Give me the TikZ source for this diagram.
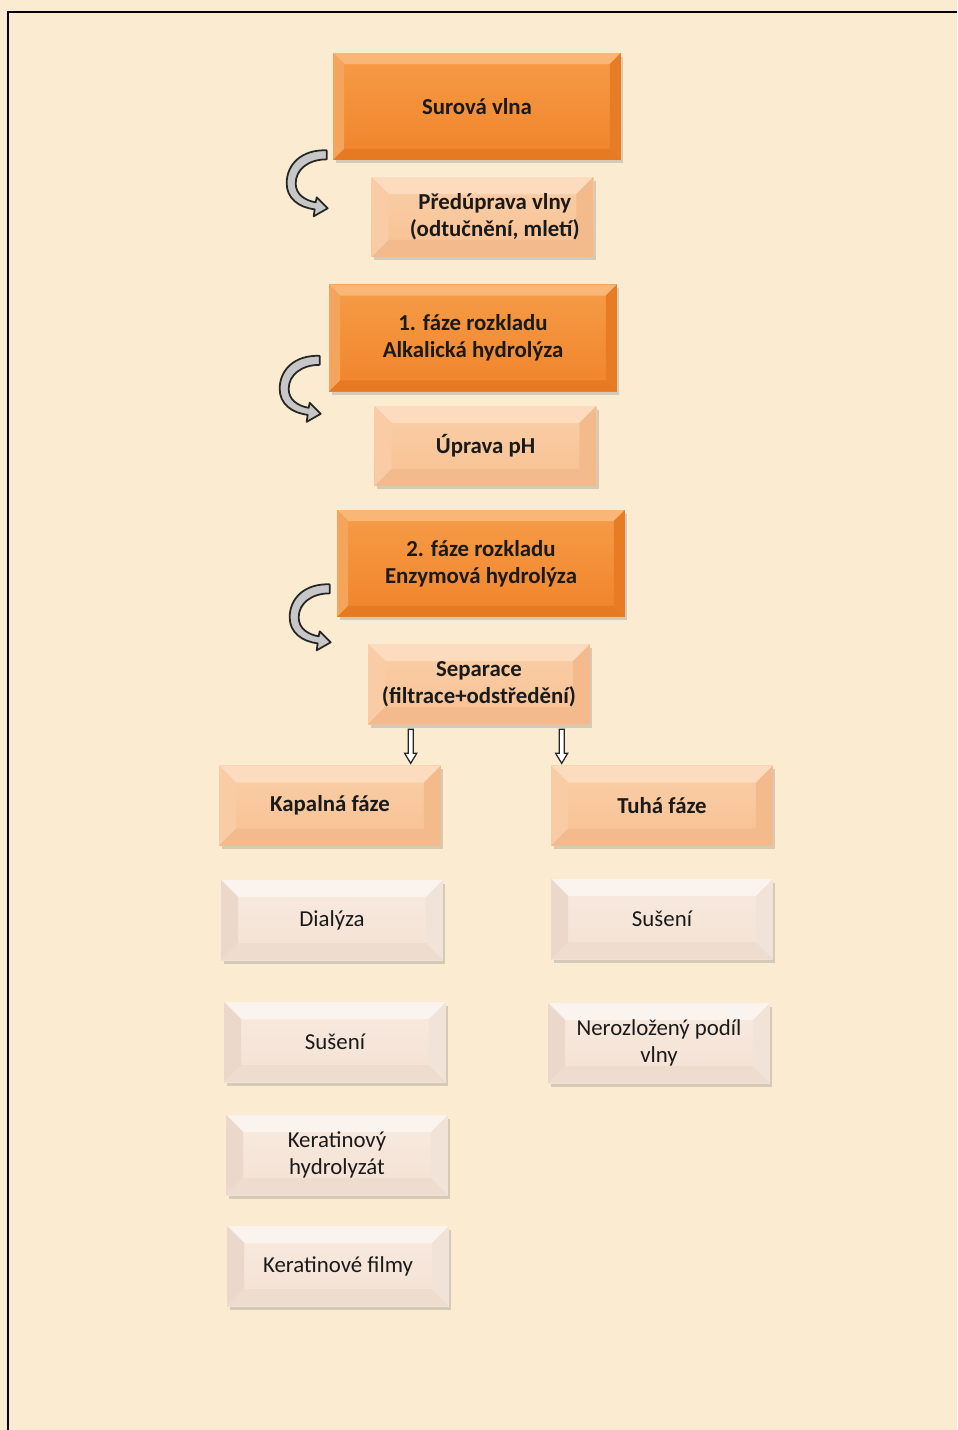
\documentclass[tikz,border=0pt]{standalone}
\usepackage{fontspec}
\setmainfont{Carlito}
\usetikzlibrary{shadows}

\definecolor{paper}{HTML}{FBEBD0}
\definecolor{inkcol}{HTML}{1A1A1A}
% orange boxes
\definecolor{orgtop}{HTML}{F69C48}
\definecolor{orgbot}{HTML}{F0842A}
\definecolor{orgT}{HTML}{F9B676}
\definecolor{orgL}{HTML}{F5A45C}
\definecolor{orgR}{HTML}{E87C24}
\definecolor{orgB}{HTML}{E57A22}
% peach boxes
\definecolor{pchtop}{HTML}{FACFA8}
\definecolor{pchbot}{HTML}{F7C092}
\definecolor{pchT}{HTML}{FCDBBE}
\definecolor{pchL}{HTML}{F9CCA6}
\definecolor{pchR}{HTML}{F3BA8C}
\definecolor{pchB}{HTML}{F3BB8D}
% pale boxes
\definecolor{paltop}{HTML}{F8EAE0}
\definecolor{palbot}{HTML}{F4E1D3}
\definecolor{palT}{HTML}{FBF3ED}
\definecolor{palL}{HTML}{ECD8CA}
\definecolor{palR}{HTML}{F2E3D8}
\definecolor{palB}{HTML}{EEDCCF}

\tikzset{
  bevel/.store in=\bv, bevel=0.22cm,
  facets/.style n args={4}{path picture={
    \coordinate (bnw) at (path picture bounding box.north west);
    \coordinate (bne) at (path picture bounding box.north east);
    \coordinate (bsw) at (path picture bounding box.south west);
    \coordinate (bse) at (path picture bounding box.south east);
    \coordinate (inw) at ([shift={(\bv,-\bv)}]bnw);
    \coordinate (ine) at ([shift={(-\bv,-\bv)}]bne);
    \coordinate (isw) at ([shift={(\bv,\bv)}]bsw);
    \coordinate (ise) at ([shift={(-\bv,\bv)}]bse);
    \fill[#1] (bnw) -- (bne) -- (ine) -- (inw) -- cycle;
    \fill[#2] (bnw) -- (inw) -- (isw) -- (bsw) -- cycle;
    \fill[#3] (bne) -- (ine) -- (ise) -- (bse) -- cycle;
    \fill[#4] (bsw) -- (isw) -- (ise) -- (bse) -- cycle;
  }},
  boxbase/.style={align=center, inner sep=0pt, text=inkcol,
    font=\fontsize{13}{15.3}\selectfont,
    drop shadow={shadow xshift=.05cm, shadow yshift=-.07cm, opacity=.3}},
  darkbox/.style={boxbase, bevel=0.22cm, minimum width=5.76cm, minimum height=2.14cm,
    top color=orgtop, bottom color=orgbot, facets={orgT}{orgL}{orgR}{orgB},
    font=\fontsize{13}{15.3}\selectfont\bfseries},
  lightbox/.style={boxbase, bevel=0.34cm, minimum width=4.44cm, minimum height=1.6cm,
    top color=pchtop, bottom color=pchbot, facets={pchT}{pchL}{pchR}{pchB},
    font=\fontsize{13}{15.3}\selectfont\bfseries},
  palebox/.style={boxbase, bevel=0.34cm, minimum width=4.44cm, minimum height=1.6cm,
    top color=paltop, bottom color=palbot, facets={palT}{palL}{palR}{palB}},
  bendarrow/.pic={
    \filldraw[fill=black!22, draw=black!85, line width=1pt, line join=round]
      (0,0) .. controls (-25,-1) and (-40,14) .. (-40,33)
      .. controls (-40,48) and (-28,57) .. (-12,59)
      -- (-13,66) -- (1,58) -- (-10,47) -- (-11,52)
      .. controls (-22,50) and (-31,44) .. (-31,33)
      .. controls (-31,19) and (-18,9) .. (0,9) -- cycle;
  },
  hollowarrow/.pic={
    \filldraw[fill=white, draw=black!85, line width=.7pt]
      (-2.5,0) -- (2.5,0) -- (2.5,24) -- (6,24) -- (0,34) -- (-6,24) -- (-2.5,24) -- cycle;
  }
}

\begin{document}
\begin{tikzpicture}[x=0.02cm, y=-0.02cm]
\fill[paper] (0,0) rectangle (957,1430);
\useasboundingbox (0,0) rectangle (957,1430);
\draw[line width=1.2pt] (8,1430) -- (8,12) -- (957,12);

% main chain
\node[darkbox] (surova) at (477,106.5) {Surová vlna};
\node[lightbox] (predu) at (482.5,217) {\hspace*{14pt}Předúprava vlny\\\hspace*{14pt}(odtučnění, mletí)};
\node[darkbox] (faze1) at (473,338) {1. fáze rozkladu\\Alkalická hydrolýza};
\node[lightbox] (uprava) at (485.5,446) {Úprava pH};
\node[darkbox] (faze2) at (481,563.5) {2. fáze rozkladu\\Enzymová hydrolýza};
\node[lightbox] (separ) at (479,684) {Separace\\(filtrace+odstředění)};

% two branches
\node[lightbox] (kapal) at (330,805.5) {Kapalná fáze};
\node[lightbox] (tuha) at (662,805.5) {Tuhá fáze};
\node[palebox] (dialyza) at (332,920) {Dialýza};
\node[palebox] (suseniT) at (662,919) {Sušení};
\node[palebox] (suseniK) at (335,1042) {Sušení};
\node[palebox] (nerozl) at (659,1043) {Nerozložený podíl\\vlny};
\node[palebox] (hydrol) at (337,1155) {Keratinový\\hydrolyzát};
\node[palebox] (filmy) at (338,1266) {Keratinové filmy};

% arrows
\pic at ([shift={(-6,-10)}]surova.south west) {bendarrow};
\pic at ([shift={(-9,-36)}]faze1.south west) {bendarrow};
\pic at ([shift={(-7,-33)}]faze2.south west) {bendarrow};
\coordinate (drop1) at ([shift={(43,5)}]separ.south west);
\coordinate (drop2) at ([shift={(194,5)}]separ.south west);
\pic at (drop1) {hollowarrow};
\pic at (drop2) {hollowarrow};
\end{tikzpicture}
\end{document}
